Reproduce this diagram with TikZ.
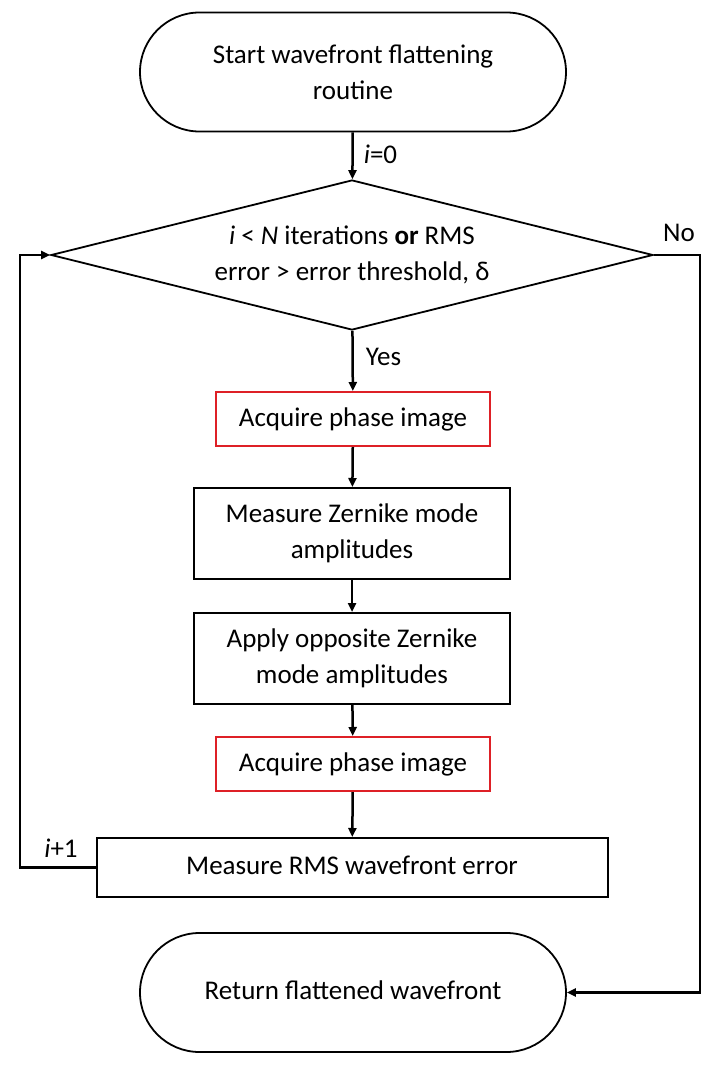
\documentclass[tikz,border=0pt]{standalone}
\usepackage{fontspec}
\setmainfont{Carlito}
\usetikzlibrary{shapes.misc,shapes.geometric,arrows.meta}
\definecolor{boxred}{RGB}{222,32,38}
\begin{document}
\begin{tikzpicture}[x=1pt,y=-1pt,
  every node/.style={font=\fontsize{27}{36}\selectfont, align=center, inner sep=0pt},
  term/.style={draw, rounded rectangle, line width=1.8pt, minimum width=426pt, minimum height=119pt},
  decision/.style={draw, diamond, aspect=4, line width=1.8pt, minimum width=602pt, minimum height=150pt},
  procbox/.style={draw, rectangle, line width=2pt},
  redbox/.style={draw=boxred, rectangle, line width=2pt, minimum width=274pt, minimum height=54pt},
  conn/.style={line width=2.5pt, -{Triangle[length=9pt,width=8pt]}},
  lbl/.style={font=\fontsize{27}{30}\selectfont}
]
\useasboundingbox (0,0) rectangle (716,1065);

\node[term] (start) at (353,72) {Start wavefront flattening\\routine};
\node[decision] (dec) at (352,255) {\textit{i} < \textit{N} iterations \textbf{or} RMS\\error > error threshold, δ};
\node[redbox] (acq1) at (353,419) {Acquire phase image};
\node[procbox, minimum width=316pt, minimum height=91pt] (meas) at (352,533.5) {Measure Zernike mode\\amplitudes};
\node[procbox, minimum width=316pt, minimum height=91pt] (apply) at (352,658.5) {Apply opposite Zernike\\mode amplitudes};
\node[redbox] (acq2) at (353,764) {Acquire phase image};
\node[procbox, minimum width=511pt, minimum height=59pt] (rms) at (352,867.5) {\raisebox{4pt}{Measure RMS wavefront error}};
\node[term] (ret) at (353,992.5) {\raisebox{4pt}{Return flattened wavefront}};

\coordinate (lx) at (20,867.5);
\coordinate (rx) at (700,255);

\draw[conn] (start) -- (dec) node[lbl, midway, right=10pt, yshift=2pt] {\textit{i}=0};
\draw[conn] (dec) -- (acq1) node[lbl, midway, right=12pt, yshift=4pt] {Yes};
\draw[conn] (acq1) -- (meas);
\draw[conn] (meas) -- (apply);
\draw[conn] (apply) -- (acq2);
\draw[conn] (acq2) -- (rms);
\draw[conn] (rms.west) -- (lx) |- (dec.west);
\draw[conn] (dec.east) -- (rx) |- (ret.east);

\node[lbl] (ip1) at (61,848) {\textit{i}+1};
\node[lbl] (no) at (679,233) {No};
\end{tikzpicture}
\end{document}
